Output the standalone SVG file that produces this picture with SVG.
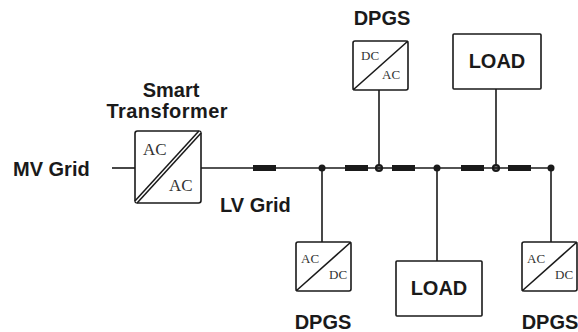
<svg xmlns="http://www.w3.org/2000/svg" width="578" height="332" viewBox="0 0 578 332">
<style>
.lbl{font-family:"Liberation Sans",Arial,sans-serif;font-weight:bold;font-size:20px;fill:#1a1a1a;}
.ac{font-family:"Liberation Serif","Times New Roman",serif;font-size:13px;fill:#333;}
.acb{font-family:"Liberation Serif","Times New Roman",serif;font-size:17px;fill:#333;}
.box{fill:#fff;stroke:#1a1a1a;stroke-width:1.6;}
.ln{stroke:#1a1a1a;stroke-width:1.6;fill:none;}
.res{fill:#1a1a1a;}
.dot{fill:#1a1a1a;}
.odot{fill:#777;stroke:#1a1a1a;stroke-width:2.2;}
</style>
<g id="connectors">
<line class="ln" x1="112" y1="168" x2="135" y2="168"/>
<line class="ln" x1="201" y1="168" x2="551" y2="168"/>
<line class="ln" x1="322" y1="168" x2="322" y2="242"/>
<line class="ln" x1="379" y1="90" x2="379" y2="168"/>
<line class="ln" x1="437" y1="168" x2="437" y2="261"/>
<line class="ln" x1="496" y1="89" x2="496" y2="168"/>
<line class="ln" x1="551" y1="168" x2="551" y2="242"/>
<rect class="res" x="253" y="165" width="23" height="6"/>
<rect class="res" x="345" y="165" width="23" height="6"/>
<rect class="res" x="392" y="165" width="23" height="6"/>
<rect class="res" x="461" y="165" width="23" height="6"/>
<rect class="res" x="508" y="165" width="23" height="6"/>
<circle class="dot" cx="322" cy="168" r="3.5"/>
<circle class="dot" cx="437" cy="168" r="3.5"/>
<circle class="dot" cx="551" cy="168" r="3.5"/>
<circle class="odot" cx="379" cy="168" r="3"/>
<circle class="odot" cx="496" cy="168" r="3"/>
<line class="ln" x1="375" y1="168" x2="383" y2="168"/>
<line class="ln" x1="492" y1="168" x2="500" y2="168"/>
</g>
<g id="mv-grid"><text class="lbl" x="13" y="176">MV Grid</text></g>
<g id="lv-grid"><text class="lbl" x="220" y="212">LV Grid</text></g>
<g id="smart-transformer">
<text class="lbl" x="171" y="97" text-anchor="middle">Smart</text>
<text class="lbl" x="167" y="118" text-anchor="middle" textLength="121">Transformer</text>
<rect class="box" x="135" y="131" width="66" height="72" rx="2.5"/>
<line x1="136" y1="202" x2="200" y2="132" stroke="#1a1a1a" stroke-width="4.5"/>
<line x1="136" y1="202" x2="200" y2="132" stroke="#fff" stroke-width="1.4"/>
<text class="acb" x="143" y="155">AC</text>
<text class="acb" x="169" y="191">AC</text>
</g>
<g id="dpgs-top">
<text class="lbl" x="382" y="25" text-anchor="middle">DPGS</text>
<rect class="box" x="353" y="41" width="55" height="49" rx="2"/>
<line class="ln" x1="353" y1="90" x2="408" y2="41"/>
<text class="ac" x="361" y="60">DC</text>
<text class="ac" x="382" y="79">AC</text>
</g>
<g id="load-top">
<rect class="box" x="453" y="34" width="88" height="55" rx="1"/>
<text class="lbl" x="497" y="68" text-anchor="middle">LOAD</text>
</g>
<g id="dpgs-bottom-left">
<rect class="box" x="296" y="242" width="55" height="49" rx="2"/>
<line class="ln" x1="296" y1="291" x2="351" y2="242"/>
<text class="ac" x="301" y="263">AC</text>
<text class="ac" x="329" y="279">DC</text>
<text class="lbl" x="323" y="329" text-anchor="middle">DPGS</text>
</g>
<g id="load-bottom">
<rect class="box" x="396" y="261" width="86" height="55" rx="1"/>
<text class="lbl" x="439" y="295" text-anchor="middle">LOAD</text>
</g>
<g id="dpgs-bottom-right">
<rect class="box" x="522" y="242" width="55" height="49" rx="2"/>
<line class="ln" x1="522" y1="291" x2="577" y2="242"/>
<text class="ac" x="527" y="263">AC</text>
<text class="ac" x="555" y="279">DC</text>
<text class="lbl" x="550" y="329" text-anchor="middle">DPGS</text>
</g>
</svg>
